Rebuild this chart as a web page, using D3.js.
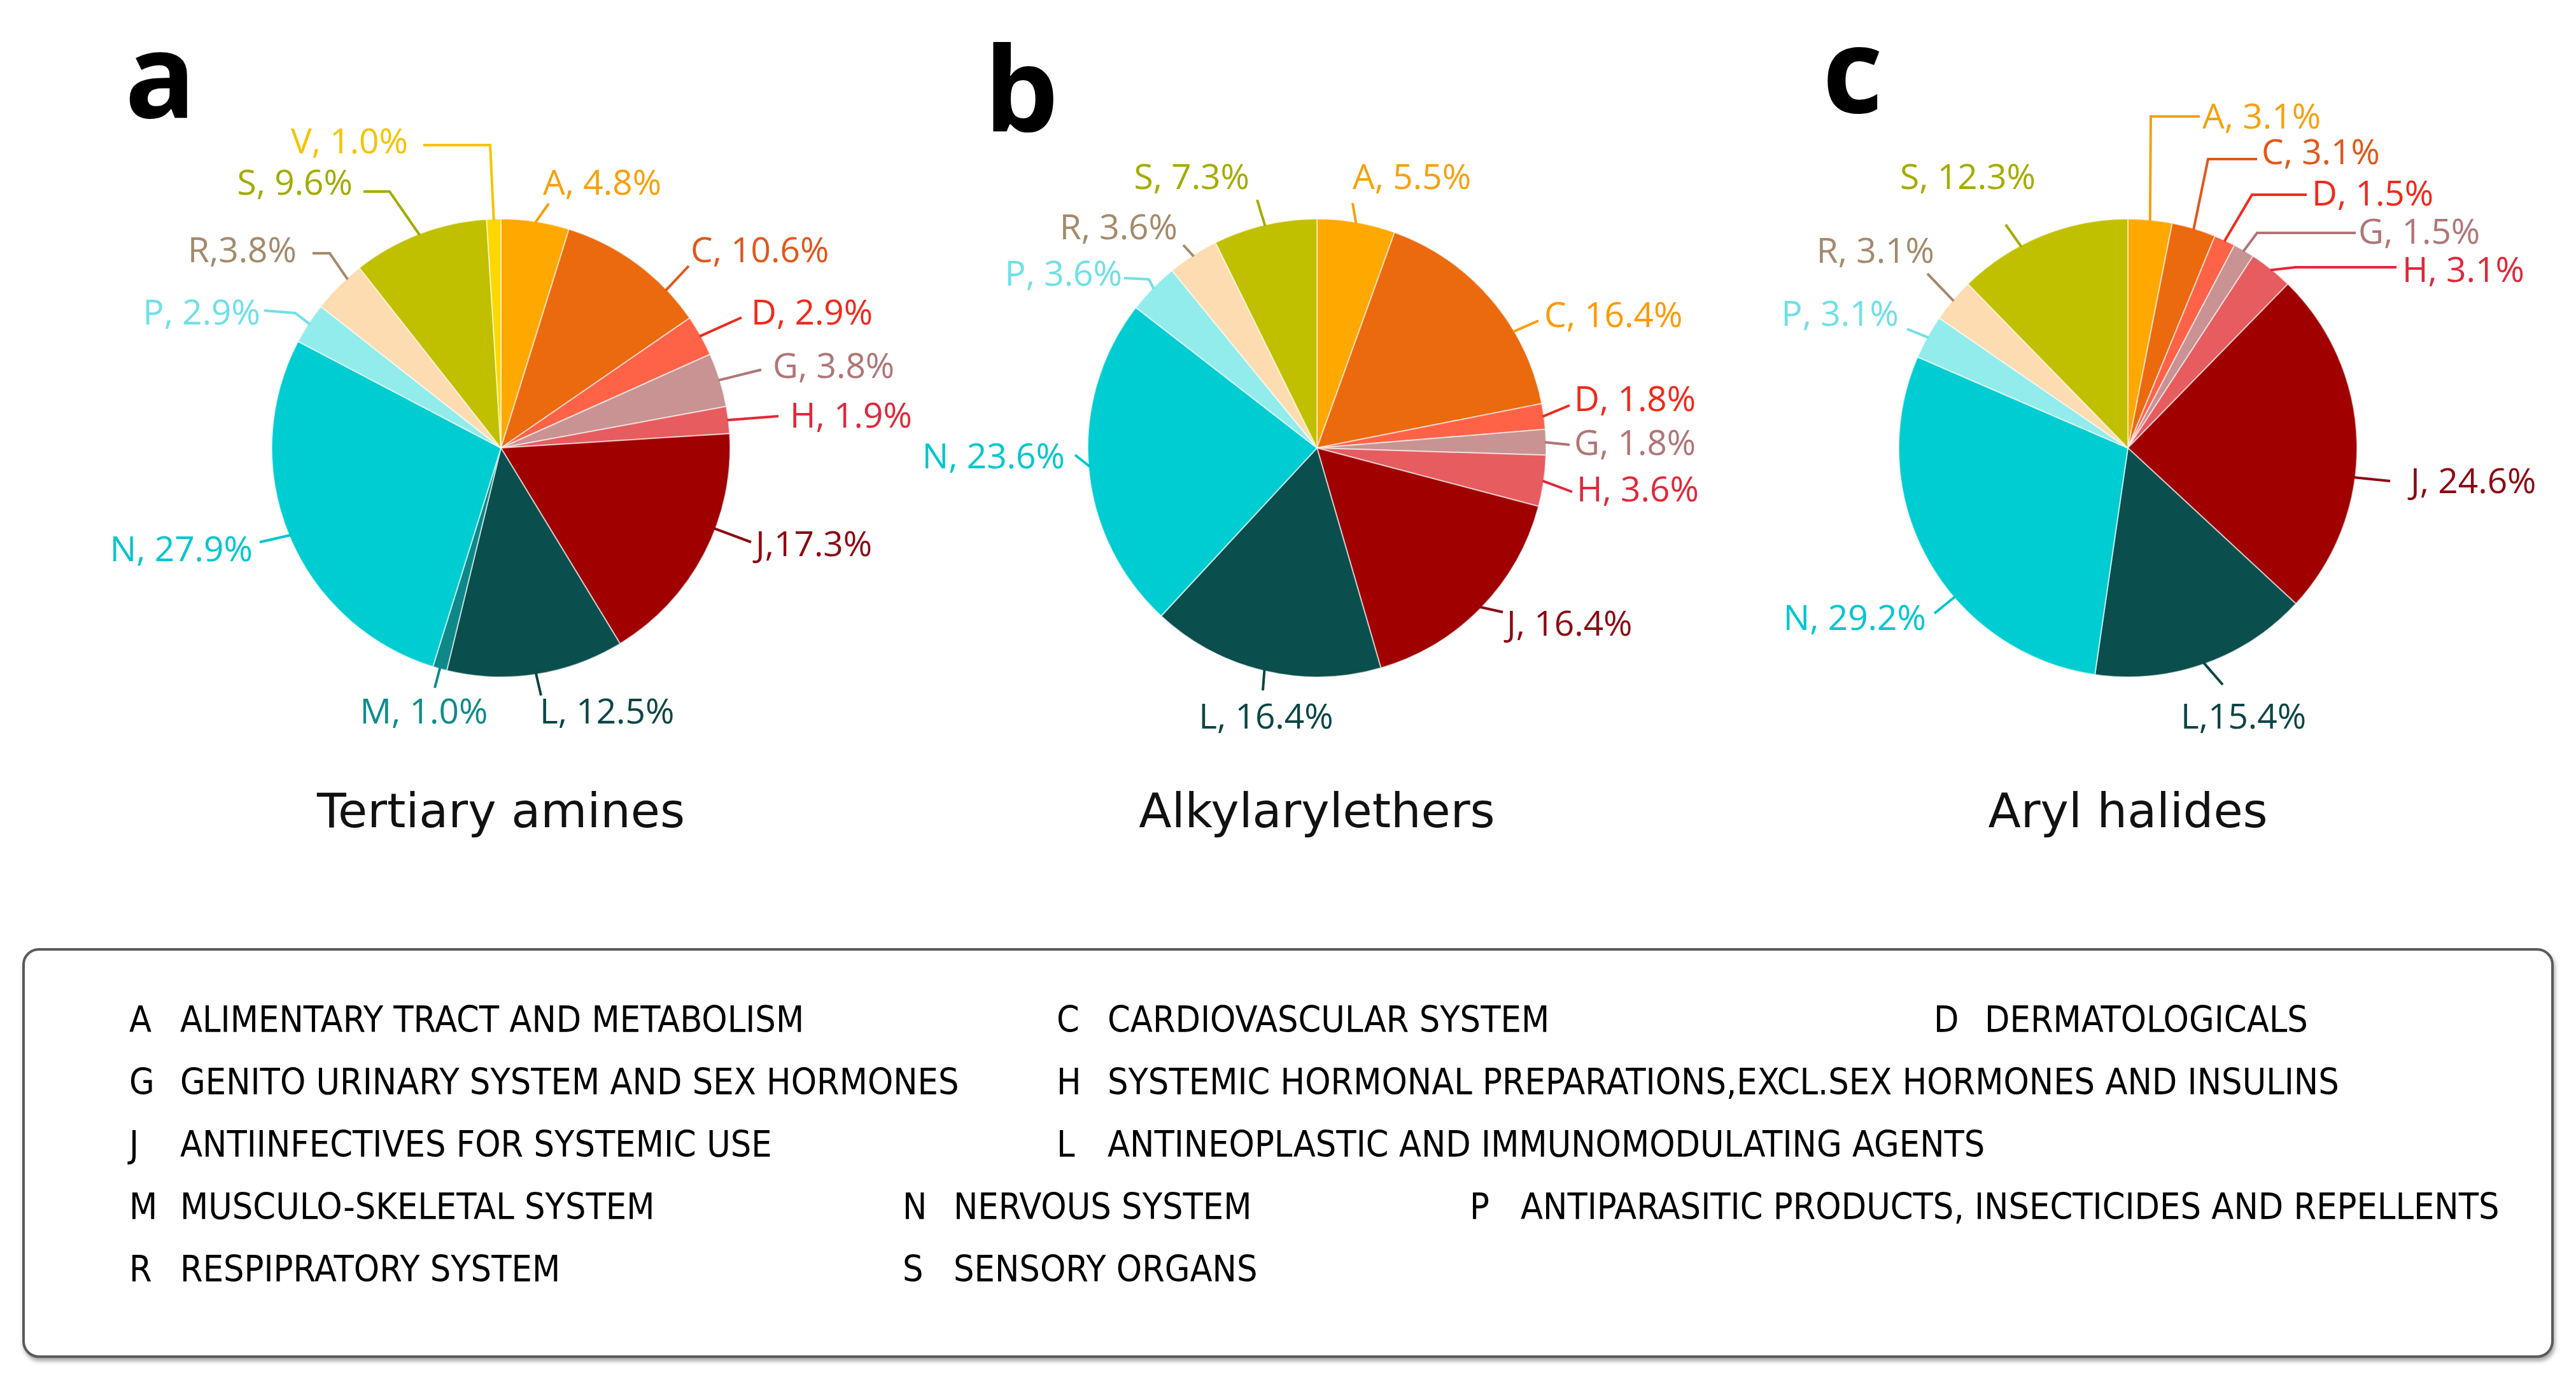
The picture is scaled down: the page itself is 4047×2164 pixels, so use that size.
<!DOCTYPE html>
<html>
<head>
<meta charset="utf-8">
<script src="https://cdn.jsdelivr.net/npm/d3@7"></script>
<style>
  body { margin: 0; background: #fff; }
  svg { display: block; }
</style>
</head>
<body>
<script>
// ATC categories, clockwise from 12 o'clock
const categories = ["A", "C", "D", "G", "H", "J", "L", "M", "N", "P", "R", "S", "V"]
const tertiaryAmines  = [4.8, 10.6, 2.9, 3.8, 1.9, 17.3, 12.5, 1.0, 27.9, 2.9, 3.8, 9.6, 1.0]
const alkylarylethers = [5.5, 16.4, 1.8, 1.8, 3.6, 16.4, 16.4, 0, 23.6, 3.6, 3.6, 7.3, 0]
const arylHalides     = [3.1, 3.1, 1.5, 1.5, 3.1, 24.6, 15.4, 0, 29.2, 3.1, 3.1, 12.3, 0]
const chartTitles = ["Tertiary amines", "Alkylarylethers", "Aryl halides"]
const panelLetters = ["a", "b", "c"]

const legendCodes = ["A", "C", "D", "G", "H", "J", "L", "M", "N", "P", "R", "S"]
const legendNames = [
    "ALIMENTARY TRACT AND METABOLISM",
    "CARDIOVASCULAR SYSTEM",
    "DERMATOLOGICALS",
    "GENITO URINARY SYSTEM AND SEX HORMONES",
    "SYSTEMIC HORMONAL PREPARATIONS,EXCL.SEX HORMONES AND INSULINS",
    "ANTIINFECTIVES FOR SYSTEMIC USE",
    "ANTINEOPLASTIC AND IMMUNOMODULATING AGENTS",
    "MUSCULO-SKELETAL SYSTEM",
    "NERVOUS SYSTEM",
    "ANTIPARASITIC PRODUCTS, INSECTICIDES AND REPELLENTS",
    "RESPIPRATORY SYSTEM",
    "SENSORY ORGANS"
]

// styling
const sliceColor = {
    A: "#ffa800", C: "#eb6a0e", D: "#ff6347", G: "#c99393", H: "#e65c5f", J: "#a00000",
    L: "#0a4e4e", M: "#0e8888", N: "#00cdd1", P: "#93ecec", R: "#fcdcb0", S: "#c0c000", V: "#ffd700"
}
const labelColor = {
    A: "#f7a10d", C: "#e0581a", D: "#f02a1c", G: "#b07676", H: "#e0283a", J: "#8c0a12",
    L: "#0c4646", M: "#0e8c8c", N: "#00c6cf", P: "#6fe0e8", R: "#a48a6c", S: "#a4ac00", V: "#f5c400"
}

// label placement, relative to each pie centre
const labelLayout = [
    {
        V: {tx: -146, ty: -463, anchor: "end", pts: [[-17, -476], [-122, -476]]},
        S: {tx: -233, ty: -398, anchor: "end", pts: [[-175, -403], [-216, -403]]},
        A: {tx: 66, ty: -398, pts: [[75, -384]]},
        R: {tx: -321, ty: -292, anchor: "end", sep: ",", at: 0.7, pts: [[-269, -306], [-296, -306]]},
        C: {tx: 298, ty: -292, at: 0.76, pts: [[295, -286]]},
        P: {tx: -378, ty: -194, anchor: "end", pts: [[-323, -212], [-372, -216]]},
        D: {tx: 393, ty: -194, pts: [[378, -205]]},
        G: {tx: 427, ty: -110, pts: [[409, -123]]},
        H: {tx: 454, ty: -32, pts: [[436, -50]]},
        J: {tx: 400, ty: 170, sep: ",", at: 0.39, pts: [[393, 148]]},
        N: {tx: -390, ty: 178, anchor: "end", pts: [[-379, 148]]},
        M: {tx: -121, ty: 433, anchor: "middle", pts: [[-104, 377]]},
        L: {tx: 61, ty: 433, pts: [[63, 389]]}
    },
    {
        S: {tx: -106, ty: -407, anchor: "end", pts: [[-94, -390]]},
        A: {tx: 56, ty: -407, pts: [[56, -385]]},
        R: {tx: -219, ty: -328, anchor: "end", pts: [[-210, -319]]},
        P: {tx: -306, ty: -255, anchor: "end", pts: [[-264, -265], [-303, -267]]},
        C: {tx: 357, ty: -190, at: 0.67, color: "#ff9a00", pts: [[348, -200]]},
        D: {tx: 404, ty: -58, pts: [[397, -67]]},
        G: {tx: 404, ty: 11, pts: [[397, -5]]},
        H: {tx: 408, ty: 84, pts: [[401, 69]]},
        N: {tx: -396, ty: 32, anchor: "end", pts: [[-380, 11]]},
        J: {tx: 298, ty: 295, pts: [[292, 258]]},
        L: {tx: -80, ty: 441, anchor: "middle", pts: [[-85, 381]]}
    },
    {
        A: {tx: 117, ty: -502, pts: [[36, -521], [113, -521]]},
        C: {tx: 210, ty: -446, pts: [[126, -454], [203, -454]]},
        D: {tx: 289, ty: -381, pts: [[195, -398], [281, -398]]},
        G: {tx: 362, ty: -321, pts: [[203, -338], [358, -338]]},
        H: {tx: 431, ty: -261, pts: [[263, -284], [422, -284]]},
        S: {tx: -145, ty: -407, anchor: "end", at: 0.37, pts: [[-192, -351]]},
        R: {tx: -304, ty: -291, anchor: "end", pts: [[-315, -274]]},
        P: {tx: -360, ty: -192, anchor: "end", pts: [[-347, -187]]},
        J: {tx: 444, ty: 71, at: 0.6, pts: [[412, 52]]},
        N: {tx: -317, ty: 286, anchor: "end", at: 0.39, pts: [[-304, 260]]},
        L: {tx: 83, ty: 441, sep: ",", pts: [[149, 372]]}
    }
]

let w = 4047
let h = 2164
let radius = 360
let centersX = [787, 2069, 3343]
let centerY = 704
let letterPos = [[-591, -519], [-523, -497], [-480, -527]]

let svg = d3.select("body").append("svg")
    .attr("width", w)
    .attr("height", h)

let defs = svg.append("defs")
let shadow = defs.append("filter").attr("id", "shadow")
    .attr("x", "-2%").attr("y", "-5%").attr("width", "104%").attr("height", "112%")
shadow.append("feDropShadow")
    .attr("dx", 2).attr("dy", 5).attr("stdDeviation", 3)
    .attr("flood-color", "#000").attr("flood-opacity", 0.35)

let pie = d3.pie().sort(null).value(d => d.value)
let arc = d3.arc().innerRadius(0).outerRadius(radius)
let line = d3.line()

;[tertiaryAmines, alkylarylethers, arylHalides].forEach((values, ci) => {
    let data = categories.map((c, i) => ({cat: c, value: values[i]})).filter(d => d.value > 0)
    let arcs = pie(data)
    let layout = labelLayout[ci]
    let g = svg.append("g")
        .attr("transform", `translate(${centersX[ci]},${centerY})`)

    g.selectAll("path.slice")
        .data(arcs)
        .enter()
        .append("path")
        .attr("class", "slice")
        .attr("d", arc)
        .attr("fill", d => sliceColor[d.data.cat])
        .attr("stroke", "#fff")
        .attr("stroke-opacity", 0.6)
        .attr("stroke-width", 2)

    arcs.forEach(d => {
        let lay = layout[d.data.cat]
        if (!lay) return
        let at = lay.at === undefined ? 0.5 : lay.at
        let a = d.startAngle + (d.endAngle - d.startAngle) * at
        let edge = [Math.sin(a) * (radius - 2), -Math.cos(a) * (radius - 2)]
        let col = lay.color || labelColor[d.data.cat]
        g.append("path")
            .attr("d", line([edge].concat(lay.pts)))
            .attr("fill", "none")
            .attr("stroke", col)
            .attr("stroke-width", 4)
        g.append("text")
            .attr("x", lay.tx)
            .attr("y", lay.ty)
            .attr("text-anchor", lay.anchor || "start")
            .attr("fill", col)
            .style("font-family", "'Open Sans', sans-serif")
            .style("font-size", "55px")
            .text(d.data.cat + (lay.sep || ", ") + d.data.value.toFixed(1) + "%")
    })

    g.append("text")
        .attr("x", letterPos[ci][0])
        .attr("y", letterPos[ci][1])
        .style("font-family", "'Open Sans', sans-serif")
        .style("font-weight", "bold")
        .style("font-size", "185px")
        .attr("fill", "#000")
        .text(panelLetters[ci])

    g.append("text")
        .attr("x", 0)
        .attr("y", 596)
        .attr("text-anchor", "middle")
        .style("font-family", "'DejaVu Sans', sans-serif")
        .style("font-size", "75px")
        .attr("fill", "#111")
        .text(chartTitles[ci])
})

// legend box
svg.append("rect")
    .attr("x", 37)
    .attr("y", 1492)
    .attr("width", 3973)
    .attr("height", 640)
    .attr("rx", 24)
    .attr("fill", "#fff")
    .attr("stroke", "#5a5a5a")
    .attr("stroke-width", 4)
    .attr("filter", "url(#shadow)")

let legendRows = [["A", "C", "D"], ["G", "H"], ["J", "L"], ["M", "N", "P"], ["R", "S"]]
let colsTop = [203, 1660, 3038]
let colsBottom = [203, 1418, 2309]
let legend = svg.append("g")
    .style("font-family", "'Liberation Sans Narrow', 'DejaVu Sans Condensed', sans-serif")
    .style("font-size", "57px")
    .attr("fill", "#000")
legendRows.forEach((row, ri) => {
    let cols = ri < 3 ? colsTop : colsBottom
    let y = 1622 + ri * 98
    row.forEach((code, k) => {
        let x = cols[k]
        legend.append("text").attr("x", x).attr("y", y).text(code)
        legend.append("text").attr("x", x + 80).attr("y", y)
            .text(legendNames[legendCodes.indexOf(code)])
    })
})
</script>
</body>
</html>
